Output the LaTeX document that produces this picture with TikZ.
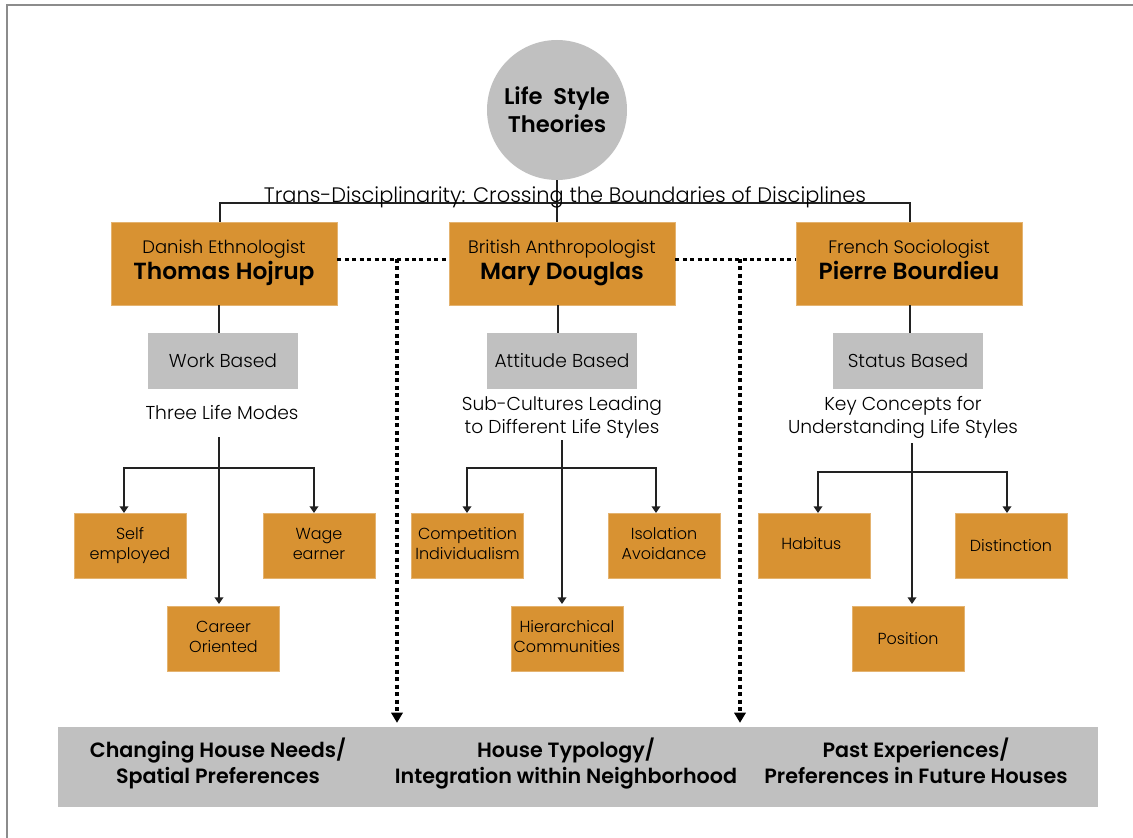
\documentclass[tikz,border=0pt]{standalone}
\usepackage{fontspec}
\setmainfont{Poppins}[UprightFont=* Light, BoldFont=* SemiBold]
\usetikzlibrary{arrows.meta}
\definecolor{orng}{HTML}{D89232}
\definecolor{grayb}{HTML}{C0C0C0}
\definecolor{lin}{HTML}{222222}
\tikzset{
  obox/.style={fill=orng, draw=orng!70!white, line width=0.5pt, inner sep=0pt, align=center},
  bigbox/.style={obox, minimum width=169.5pt, minimum height=62.25pt},
  smallbox/.style={obox, minimum width=84pt, minimum height=48.75pt, font=\fontsize{12}{14.5}\selectfont},
  gbox/.style={fill=grayb, inner sep=0pt, minimum width=112.5pt, minimum height=42pt, font=\fontsize{14}{16}\selectfont},
  lbl/.style={inner sep=0pt, align=center, font=\fontsize{14}{17.5}\selectfont},
  conn/.style={draw=lin, line width=1.1pt},
  arr/.style={conn, -{Triangle[width=6.5pt,length=5pt]}},
  dotl/.style={draw=black, line width=2.8pt, dash pattern=on 3pt off 2.6pt},
  bott/.style={inner sep=0pt, align=center, font=\bfseries\fontsize{15.5}{19.5}\selectfont}
}
\newcommand{\smallhd}[1]{{\fontsize{13.5}{15}\selectfont #1\strut}}
\newcommand{\bighd}[1]{{\bfseries\fontsize{17.5}{20}\selectfont #1\strut}}
\begin{document}
\begin{tikzpicture}[x=0.75pt, y=-0.75pt]
\useasboundingbox (0,0) rectangle (1133,838);
\draw[draw=gray!90, line width=1pt] (7,838) -- (7,5) -- (1133,5);

% top circle
\node[circle, fill=grayb, minimum size=105pt, inner sep=0pt, align=center,
  font=\bfseries\fontsize{17}{21}\selectfont] (circ) at (557,110) {Life\ \ Style\\Theories};

% main boxes
\node[bigbox] (hoj) at (224,263.5) {\smallhd{Danish Ethnologist}\\\bighd{Thomas Hojrup}};
\node[bigbox] (mary) at (562,263.5) {\smallhd{British Anthropologist}\\\bighd{Mary Douglas}};
\node[bigbox] (pierre) at (909,263.5) {\smallhd{French Sociologist}\\\bighd{Pierre Bourdieu}};

% header line and label
\coordinate (tl) at (220,203);
\coordinate (tr) at (910,203);
\draw[conn] (tl |- hoj.north) -- (tl) -- (tr) -- (tr |- pierre.north);
\draw[conn] (circ.south) -- (circ.south |- mary.north);
\node[inner sep=0pt, anchor=base, font=\fontsize{15.7}{18}\selectfont] (tdtext) at (565,203) {Trans-Disciplinarity: Crossing the Boundaries of Disciplines};

% gray boxes
\node[gbox] (work) at (223,361) {Work Based};
\node[gbox] (att) at (562,361) {Attitude Based};
\node[gbox] (stat) at (908,361) {Status Based};
\draw[conn] (work.north -| 219,0) -- (219,305);
\draw[conn] (att.north -| 558,0) -- (558,305);
\draw[conn] (stat.north -| 910,0) -- (910,305);

% labels
\node[lbl] (three) at (222,413) {Three Life Modes};
\node[lbl] (sub) at (562,417) {Sub-Cultures Leading\strut\\to Different Life Styles\strut};
\node[lbl] (key) at (903,417) {Key Concepts for\strut\\Understanding Life Styles\strut};

% small boxes
\node[smallbox] (self) at (130,545.5) {Self\strut\\employed\strut};
\node[smallbox] (wage) at (319,545.5) {Wage\strut\\earner\strut};
\node[smallbox] (career) at (223.5,638.5) {Career\strut\\Oriented\strut};
\node[smallbox] (comp) at (467.5,545.5) {\raisebox{1.5pt}{\begin{tabular}{@{}c@{}}Competition\\Individualism\end{tabular}}};
\node[smallbox] (iso) at (664,545.5) {Isolation\strut\\Avoidance\strut};
\node[smallbox] (hier) at (567,638.5) {Hierarchical\strut\\Communities\strut};
\node[smallbox] (hab) at (814,545.5) {\raisebox{3pt}{\hspace*{-4pt}Habitus}};
\node[smallbox] (dist) at (1011,545.5) {Distinction};
\node[smallbox] (pos) at (908,638.5) {Position};

% trees
\coordinate (j1) at (219,468);
\draw[arr] (219,437) -- (219 ,604);
\draw[arr] (j1) -| (124,513);
\draw[arr] (j1) -| (314,513);

\coordinate (j2) at (562,468);
\draw[arr] (562,440) -- (562,604);
\draw[arr] (j2) -| (467,513);
\draw[arr] (j2) -| (656,513);

\coordinate (j3) at (912,472);
\draw[arr] (912,443) -- (912,604);
\draw[arr] (j3) -| (818,513);
\draw[arr] (j3) -| (1007,513);

% bottom bar
\node[fill=grayb, inner sep=0pt, minimum width=780pt, minimum height=60pt] (bar) at (578,767) {};
\node[bott] (b1) at (218,765) {Changing House Needs/\strut\\Spatial Preferences\strut};
\node[bott] (b2) at (566,765) {House Typology/\strut\\Integration within Neighborhood\strut};
\node[bott] (b3) at (916,765) {Past Experiences/\strut\\Preferences in Future Houses\strut};

% dotted connectors
\draw[dotl] ([yshift=3pt]hoj.east) -- ([yshift=3pt]mary.west);
\draw[dotl] ([yshift=3pt]mary.east) -- ([yshift=3pt]pierre.west);
\coordinate (d1) at (397,259);
\coordinate (d2) at (740,259);
\draw[dotl] (d1) -- ([yshift=6pt]d1 |- bar.north);
\draw[dotl] (d2) -- ([yshift=6pt]d2 |- bar.north);
\fill (d1 |- bar.north) ++(0,-4) -- ++(-6,-10) -- ++(12,0) -- cycle;
\fill (d2 |- bar.north) ++(0,-4) -- ++(-6,-10) -- ++(12,0) -- cycle;
\end{tikzpicture}
\end{document}
